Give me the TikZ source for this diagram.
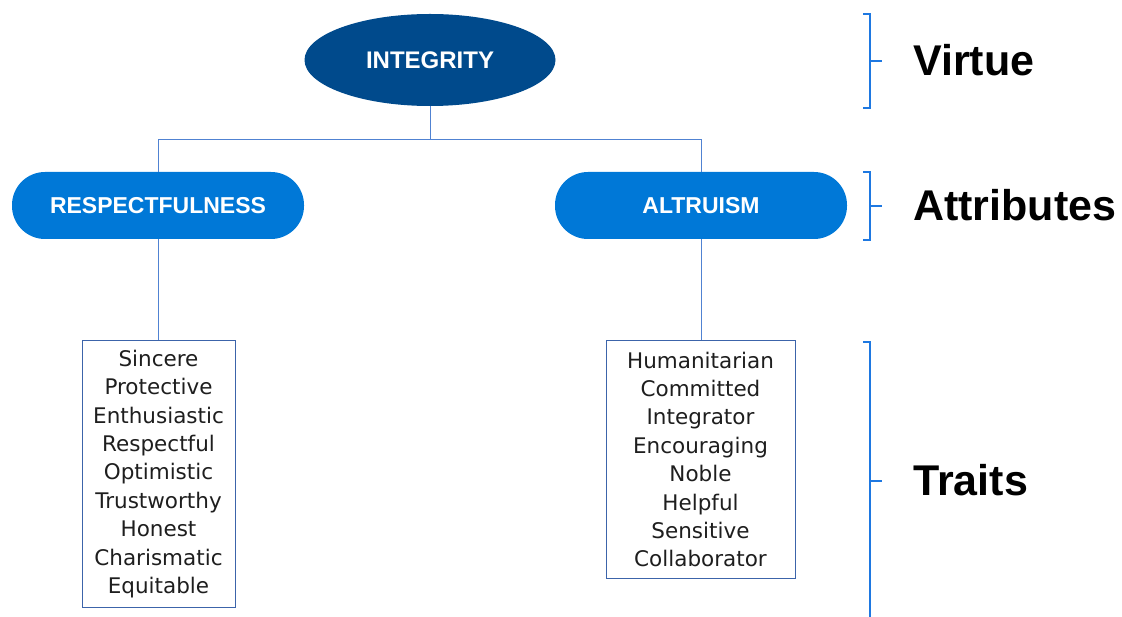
\documentclass[tikz,border=0pt]{standalone}
\usepackage{fontspec}
\setmainfont{DejaVu Sans}
\newfontfamily\headfont{Liberation Sans}
\usetikzlibrary{shapes.geometric}
\definecolor{darkblue}{RGB}{0,74,140}
\definecolor{midblue}{RGB}{0,120,215}
\definecolor{linecol}{RGB}{80,130,210}
\definecolor{boxcol}{RGB}{60,100,170}
\definecolor{bracecol}{RGB}{30,120,225}
\definecolor{listtext}{RGB}{30,30,30}
\tikzset{
  conn/.style={draw=linecol, line width=1pt},
  pill/.style={fill=midblue, rounded corners=33pt, minimum width=292pt, minimum height=67pt, inner sep=0pt,
    text=white, font=\headfont\fontsize{23}{27}\selectfont\bfseries},
  listbox/.style={draw=boxcol, line width=1pt, align=center, inner sep=0pt, text=listtext,
    font=\fontsize{21.5}{28.4}\selectfont},
  brace/.style={draw=bracecol, line width=1.2pt},
  levellabel/.style={anchor=west, inner sep=0pt, font=\headfont\fontsize{43}{48}\selectfont\bfseries}
}
\begin{document}
\begin{tikzpicture}[x=1pt,y=-1pt]
\useasboundingbox (0,0) rectangle (1122,617);
\node[ellipse, fill=darkblue, minimum width=251pt, minimum height=92pt, inner sep=0pt,
  text=white, font=\headfont\fontsize{24}{28}\selectfont\bfseries] (virt) at (430,60) {INTEGRITY};
\node[pill] (resp) at (158,205.5) {RESPECTFULNESS};
\node[pill] (altr) at (701,205.5) {ALTRUISM};
\node[listbox, minimum width=153pt, minimum height=266pt] (lbox) at (158.5,474)
  {Sincere\\Protective\\Enthusiastic\\Respectful\\Optimistic\\Trustworthy\\Honest\\Charismatic\\Equitable};
\node[listbox, minimum width=189pt, minimum height=237pt] (rbox) at (700.5,459.5)
  {Humanitarian\\Committed\\Integrator\\Encouraging\\Noble\\Helpful\\Sensitive\\Collaborator};
\coordinate (j) at (430,140);
\draw[conn] (virt.south) -- (j);
\draw[conn] (j) -| (resp.north);
\draw[conn] (j) -| (altr.north);
\draw[conn] (resp.south) -- (resp.south |- lbox.north);
\draw[conn] (altr.south) -- (altr.south |- rbox.north);
% brackets
\draw[brace] (863,14) -- (870,14) -- (870,108) -- (863,108);
\draw[brace] (870,61) -- (882,61);
\draw[brace] (863,172) -- (870,172) -- (870,240) -- (863,240);
\draw[brace] (870,206) -- (882,206);
\draw[brace] (863,342) -- (870,342) -- (870,617);
\draw[brace] (870,481) -- (882,481);
\node[levellabel] (lv) at (913,60) {Virtue};
\node[levellabel] (la) at (913,205) {Attributes};
\node[levellabel] (lt) at (913,480) {Traits};
\end{tikzpicture}
\end{document}
